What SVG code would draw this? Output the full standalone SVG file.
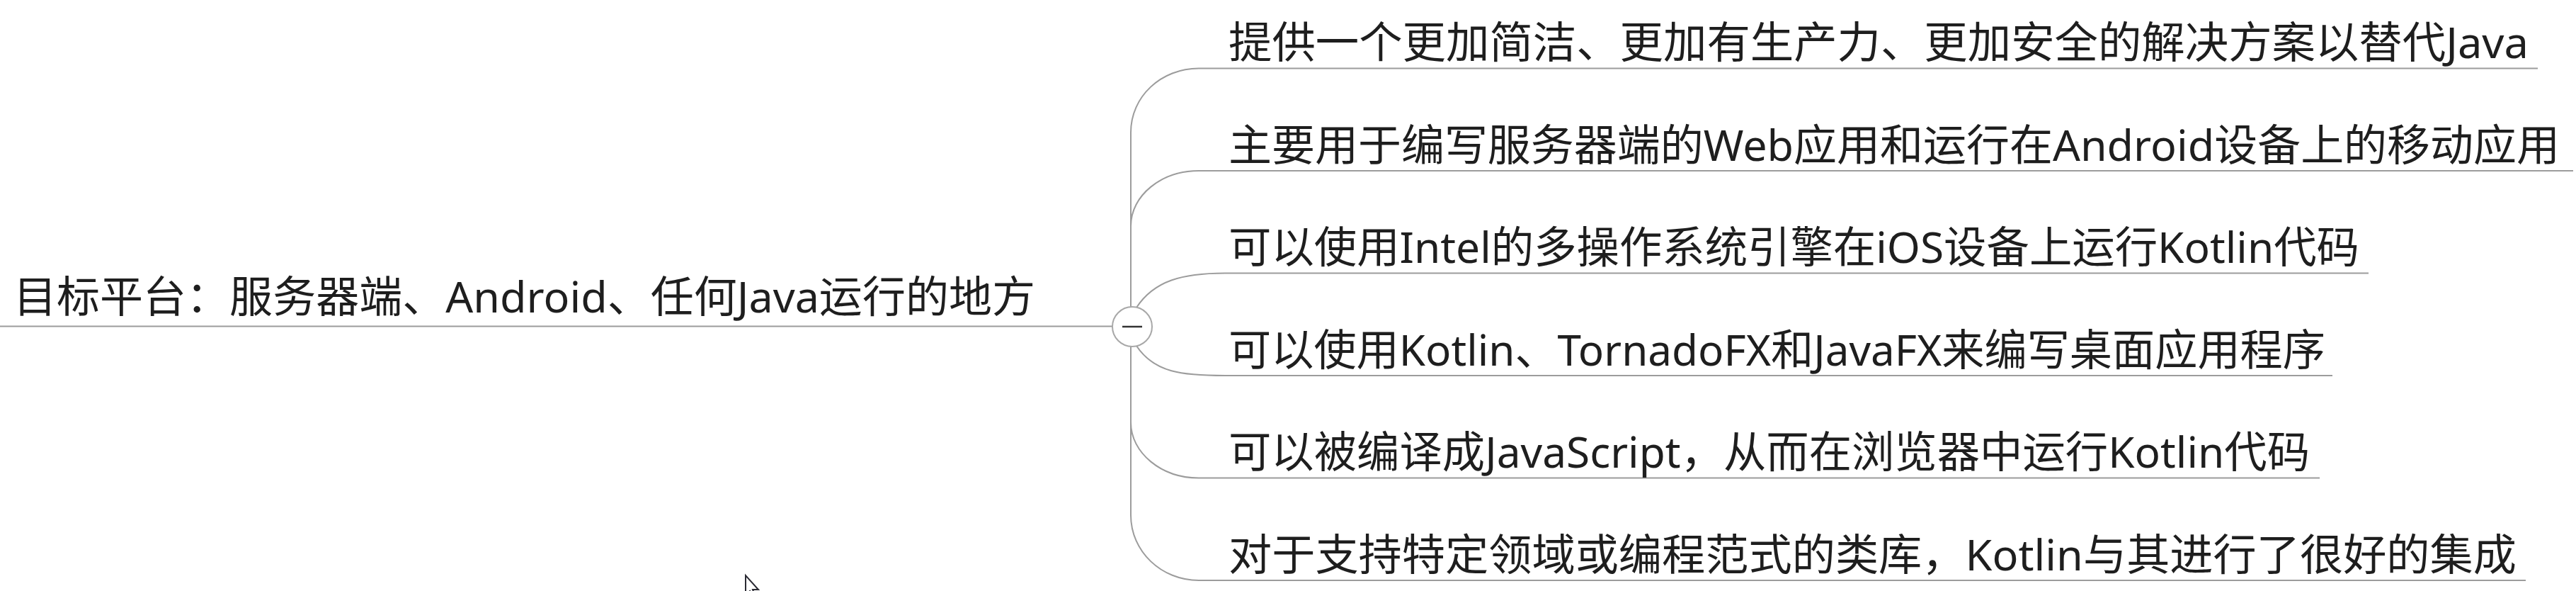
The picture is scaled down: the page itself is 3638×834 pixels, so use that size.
<svg xmlns="http://www.w3.org/2000/svg" width="3638" height="834" viewBox="0 0 3638 834">
<style>
.t{font-family:"Microsoft YaHei","Noto Sans","Noto Sans CJK SC",sans-serif;fill:#1e1e1e}
.main{font-size:61px}
.sub{font-size:61px}
.ln{fill:none;stroke:#9c9c9c;stroke-width:2}
</style>
<rect width="3638" height="834" fill="#ffffff"/>
<g id="connectors">
<path class="ln" d="M0,460.5 L1571,460.5"/>
<path class="ln" d="M1597,433 L1597,187 C1597,136 1640,96.5 1693,96.5 L3584,96.5"/>
<path class="ln" d="M1597,433 L1597,319 C1597,276 1640,241 1693,241 L3634,241"/>
<path class="ln" d="M1605,434 C1630,396 1670,385.5 1730,385.5 L3345,385.5"/>
<path class="ln" d="M1605,488 C1630,526 1670,530 1730,530 L3294,530"/>
<path class="ln" d="M1597,489 L1597,596 C1597,639 1640,674.5 1693,674.5 L3276,674.5"/>
<path class="ln" d="M1597,489 L1597,727 C1597,778 1640,819 1693,819 L3567,819"/>
</g>
<g id="root">
<text class="t main" x="19" y="441" textLength="1443" lengthAdjust="spacingAndGlyphs">目标平台：服务器端、Android、任何Java运行的地方</text>
</g>
<g id="collapse">
<circle cx="1599" cy="461" r="28" fill="#ffffff" stroke="#a8a8a8" stroke-width="2"/>
<line x1="1585" y1="461" x2="1613" y2="461" stroke="#333333" stroke-width="2.5"/>
</g>
<g id="n1"><text class="t sub" x="1735" y="82" textLength="1836" lengthAdjust="spacingAndGlyphs">提供一个更加简洁、更加有生产力、更加安全的解决方案以替代Java</text></g>
<g id="n2"><text class="t sub" x="1735" y="226.5" textLength="1880" lengthAdjust="spacingAndGlyphs">主要用于编写服务器端的Web应用和运行在Android设备上的移动应用</text></g>
<g id="n3"><text class="t sub" x="1735" y="371" textLength="1597" lengthAdjust="spacingAndGlyphs">可以使用Intel的多操作系统引擎在iOS设备上运行Kotlin代码</text></g>
<g id="n4"><text class="t sub" x="1735" y="515.5" textLength="1549" lengthAdjust="spacingAndGlyphs">可以使用Kotlin、TornadoFX和JavaFX来编写桌面应用程序</text></g>
<g id="n5"><text class="t sub" x="1735" y="660" textLength="1527" lengthAdjust="spacingAndGlyphs">可以被编译成JavaScript，从而在浏览器中运行Kotlin代码</text></g>
<g id="n6"><text class="t sub" x="1735" y="804.5" textLength="1819" lengthAdjust="spacingAndGlyphs">对于支持特定领域或编程范式的类库，Kotlin与其进行了很好的集成</text></g>
<g id="cursor">
<path d="M1053,812 L1053,840 L1059,834 L1063,844 L1067,842 L1063,832 L1071,832 Z" fill="#ffffff" stroke="#2a2a33" stroke-width="2" stroke-linejoin="miter"/>
</g>
</svg>
